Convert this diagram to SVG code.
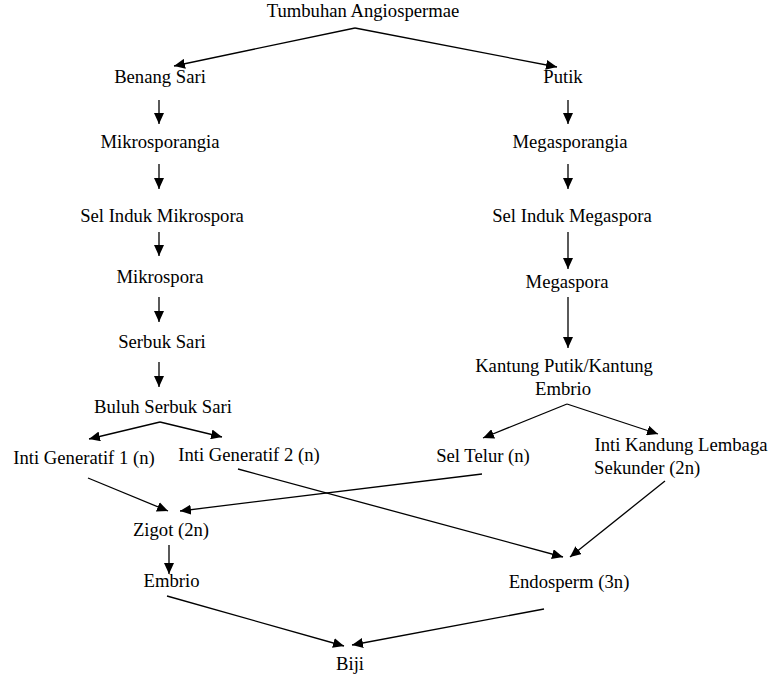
<svg xmlns="http://www.w3.org/2000/svg" width="775" height="686" viewBox="0 0 775 686">
<style>
.c line{stroke:#000;stroke-width:1.3;marker-end:url(#ah)}
</style>
<defs>
<marker id="ah" markerUnits="userSpaceOnUse" markerWidth="12" markerHeight="10" refX="11" refY="5" orient="auto">
<path d="M0,0 L11,5 L0,10 Z" fill="#000"/>
</marker>
</defs>
<rect width="775" height="686" fill="#fff"/>
<g id="n-root"><text x="363" y="17" font-family="Liberation Serif" font-size="18.67" text-anchor="middle">Tumbuhan Angiospermae</text></g>
<g id="n-benang"><text x="160" y="83" font-family="Liberation Serif" font-size="18.67" text-anchor="middle">Benang Sari</text></g>
<g id="n-putik"><text x="563" y="83" font-family="Liberation Serif" font-size="18.67" text-anchor="middle">Putik</text></g>
<g id="n-mikrosporangia"><text x="160" y="148" font-family="Liberation Serif" font-size="18.67" text-anchor="middle">Mikrosporangia</text></g>
<g id="n-selinduk-mikro"><text x="162" y="222" font-family="Liberation Serif" font-size="18.67" text-anchor="middle">Sel Induk Mikrospora</text></g>
<g id="n-mikrospora"><text x="160" y="283" font-family="Liberation Serif" font-size="18.67" text-anchor="middle">Mikrospora</text></g>
<g id="n-serbuk"><text x="162" y="348" font-family="Liberation Serif" font-size="18.67" text-anchor="middle">Serbuk Sari</text></g>
<g id="n-buluh"><text x="163" y="413" font-family="Liberation Serif" font-size="18.67" text-anchor="middle">Buluh Serbuk Sari</text></g>
<g id="n-megasporangia"><text x="570" y="148" font-family="Liberation Serif" font-size="18.67" text-anchor="middle">Megasporangia</text></g>
<g id="n-selinduk-mega"><text x="572" y="222" font-family="Liberation Serif" font-size="18.67" text-anchor="middle">Sel Induk Megaspora</text></g>
<g id="n-megaspora"><text x="567" y="288" font-family="Liberation Serif" font-size="18.67" text-anchor="middle">Megaspora</text></g>
<g id="n-kantung"><text x="564" y="372" font-family="Liberation Serif" font-size="18.67" text-anchor="middle">Kantung Putik/Kantung</text><text x="563" y="395" font-family="Liberation Serif" font-size="18.67" text-anchor="middle">Embrio</text></g>
<g id="n-ig1"><text x="84" y="464" font-family="Liberation Serif" font-size="18.67" text-anchor="middle">Inti Generatif 1 (n)</text></g>
<g id="n-ig2"><text x="249" y="461" font-family="Liberation Serif" font-size="18.67" text-anchor="middle">Inti Generatif 2 (n)</text></g>
<g id="n-seltelur"><text x="483" y="462" font-family="Liberation Serif" font-size="18.67" text-anchor="middle">Sel Telur (n)</text></g>
<g id="n-intikandung"><text x="681" y="451" font-family="Liberation Serif" font-size="18.67" text-anchor="middle">Inti Kandung Lembaga</text><text x="594" y="474" font-family="Liberation Serif" font-size="18.67" text-anchor="start">Sekunder (2n)</text></g>
<g id="n-zigot"><text x="171" y="536" font-family="Liberation Serif" font-size="18.67" text-anchor="middle">Zigot (2n)</text></g>
<g id="n-embrio"><text x="171.5" y="587" font-family="Liberation Serif" font-size="18.67" text-anchor="middle">Embrio</text></g>
<g id="n-endosperm"><text x="569" y="588" font-family="Liberation Serif" font-size="18.67" text-anchor="middle">Endosperm (3n)</text></g>
<g id="n-biji"><text x="350" y="670" font-family="Liberation Serif" font-size="18.67" text-anchor="middle">Biji</text></g>
<g id="connectors" class="c">
<line x1="355" y1="28" x2="174" y2="66"/>
<line x1="355" y1="28" x2="557" y2="67"/>
<line x1="159" y1="100" x2="159" y2="124"/>
<line x1="159" y1="164" x2="159" y2="189"/>
<line x1="159" y1="232" x2="159" y2="256"/>
<line x1="159" y1="297" x2="159" y2="322"/>
<line x1="159" y1="362" x2="159" y2="387"/>
<line x1="568" y1="100" x2="568" y2="124"/>
<line x1="568" y1="164" x2="568" y2="189"/>
<line x1="568" y1="232" x2="568" y2="269"/>
<line x1="568" y1="297" x2="568" y2="348"/>
<line x1="160" y1="422" x2="89" y2="439"/>
<line x1="160" y1="422" x2="222" y2="437"/>
<line x1="567" y1="404" x2="483" y2="438"/>
<line x1="567" y1="404" x2="658" y2="434"/>
<line x1="88" y1="478" x2="168" y2="511"/>
<line x1="482" y1="474" x2="180" y2="511"/>
<line x1="238" y1="469" x2="563" y2="557"/>
<line x1="665" y1="481" x2="570" y2="557"/>
<line x1="169" y1="545" x2="169" y2="574"/>
<line x1="167" y1="596" x2="344" y2="646"/>
<line x1="544" y1="609" x2="352" y2="645"/>
</g>
</svg>
